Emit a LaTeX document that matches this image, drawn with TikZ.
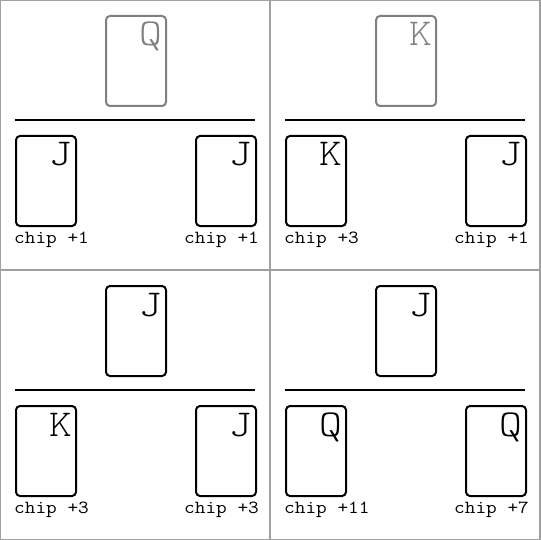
\documentclass[tikz,border=0pt]{standalone}
\usepackage{fontspec}
\newfontfamily\courfont{Latin Modern Mono Light}[FakeStretch=1.14]
\newfontfamily\chipfont{Latin Modern Mono}[FakeStretch=1.12]
\definecolor{cardgray}{HTML}{808080}
\definecolor{gridgray}{HTML}{A0A0A0}
\tikzset{
 card/.style={draw, line width=2pt, rounded corners=4pt, minimum width=60pt, minimum height=90pt, inner sep=0pt, anchor=north west},
 rank/.style={font=\fontsize{38}{38}\selectfont\courfont, inner sep=0pt, anchor=base east},
 chip/.style={font=\fontsize{18.5}{18.5}\selectfont\chipfont, inner sep=0pt, anchor=base west},
 divider/.style={line width=2pt},
 gridline/.style={draw=gridgray, line width=2pt}
}
\newcommand\panel[9]{%
\begin{scope}[shift={(#2,#3)}]
\node[card, draw=#4] (#1t) at (105,15) {};
\node[rank, text=#4] (#1tr) at ([xshift=-5pt,yshift=-31pt]#1t.north east) {#5};
\coordinate (#1a) at (15,120);
\coordinate (#1b) at (255,120);
\draw[divider] (#1a) -- (#1b);
\node[card] (#1l) at (15,135) {};
\node[rank] (#1lr) at ([xshift=-5pt,yshift=-31pt]#1l.north east) {#6};
\node[card] (#1r) at (195,135) {};
\node[rank] (#1rr) at ([xshift=-5pt,yshift=-31pt]#1r.north east) {#7};
\node[chip] (#1lc) at (14,243) {#8};
\node[chip] (#1rc) at (184,243) {#9};
\end{scope}}
\begin{document}
\begin{tikzpicture}[x=1pt,y=-1pt]
\useasboundingbox (0,0) rectangle (540,540);
\fill[white] (0,0) rectangle (540,540);
\panel{p}{0}{0}{cardgray}{Q}{J}{J}{chip +1}{chip +1}
\panel{q}{270}{0}{cardgray}{K}{K}{J}{chip +3}{chip +1}
\panel{r}{0}{270}{black}{J}{K}{J}{chip +3}{chip +3}
\panel{s}{270}{270}{black}{J}{Q}{Q}{chip +11}{chip +7}
\draw[gridline] (0,0) rectangle (540,540);
\coordinate (g1) at (270,0);
\coordinate (g2) at (270,540);
\coordinate (g3) at (0,270);
\coordinate (g4) at (540,270);
\draw[gridline] (g1) -- (g2);
\draw[gridline] (g3) -- (g4);
\end{tikzpicture}
\end{document}
